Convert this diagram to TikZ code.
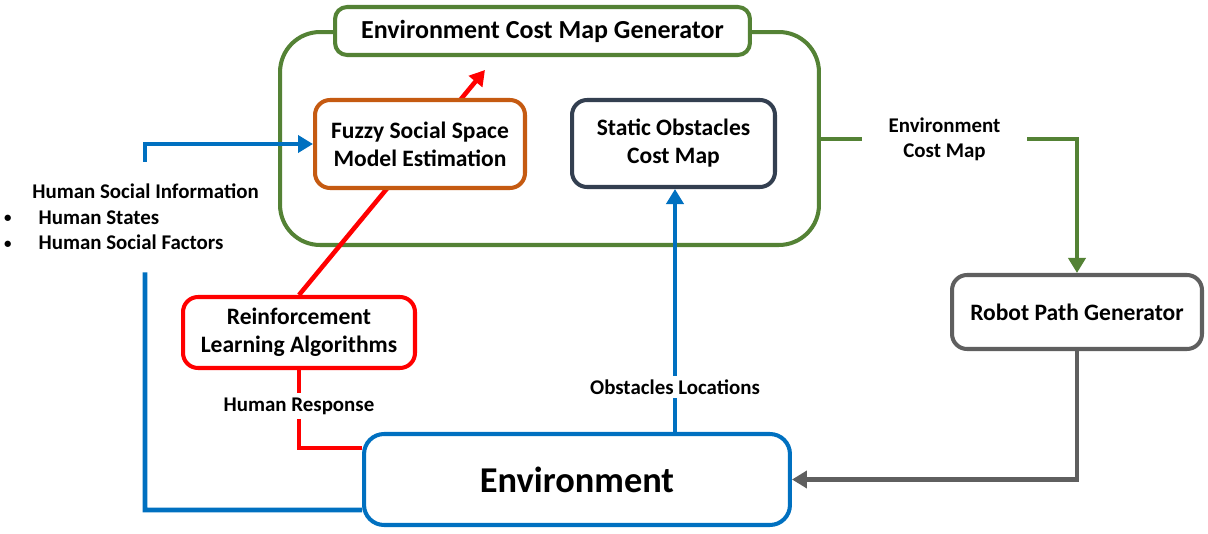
\documentclass[tikz,border=0pt]{standalone}
\usepackage{fontspec}
\setmainfont{Carlito}
\usetikzlibrary{arrows.meta}

\definecolor{genGreen}{RGB}{84,130,53}
\definecolor{fuzzyOrange}{RGB}{197,90,17}
\definecolor{staticSlate}{RGB}{51,63,80}
\definecolor{envBlue}{RGB}{0,112,192}
\definecolor{pathGray}{RGB}{95,95,95}

\newcommand{\hsibullet}{\llap{\raisebox{0.15ex}{\fontsize{8.5}{8.5}\selectfont\textbullet}\hspace{1.0em}}\hspace{0.3em}}

\tikzset{
  box/.style={draw,line width=2.3pt,fill=white,rounded corners=0.3cm,align=center,font=\bfseries\fontsize{13.4}{15.9}\selectfont},
  lbl/.style={inner sep=0pt,align=center,font=\bfseries\fontsize{11.9}{14.4}\selectfont},
  link/.style={line width=2.6pt},
  tip/.style={-{Triangle[width=0.34cm,length=0.3cm]}}
}

\begin{document}
\begin{tikzpicture}[x=0.02cm,y=-0.02cm]
\useasboundingbox (0,0) rectangle (1208,534);

\node[box,draw=genGreen,rounded corners=0.8cm,minimum width=10.78cm,minimum height=4.26cm] (gen) at (549.5,138.5) {};
\node[box,draw=genGreen,rounded corners=0.24cm,minimum width=8.3cm,minimum height=0.96cm,font=\bfseries\fontsize{14.8}{17}\selectfont] (title) at (542.5,31) {Environment Cost Map Generator};

\node[box,draw=red,minimum width=4.64cm,minimum height=1.42cm] (rl) at (299,332.5) {Reinforcement\\Learning Algorithms};
\coordinate (rtip) at (485,70);
\draw[link,red,tip] (rl.north) -- (rtip);

\node[box,draw=fuzzyOrange,minimum width=4.2cm,minimum height=1.76cm] (fuzzy) at (420,144) {Fuzzy Social Space\\Model Estimation};
\node[box,draw=staticSlate,minimum width=4.06cm,minimum height=1.74cm] (static) at (673.5,143.5) {Static Obstacles\\Cost Map};

\node[box,draw=envBlue,rounded corners=0.4cm,minimum width=8.52cm,minimum height=1.82cm,font=\bfseries\fontsize{20.7}{24}\selectfont] (env) at (577,479.5) {Environment};
\node[box,draw=pathGray,minimum width=5.0cm,minimum height=1.48cm] (robot) at (1077,312) {Robot Path Generator};

\node[lbl,minimum width=3.3cm] (ecm) at (944.5,139) {Environment\\Cost Map};
\node[lbl,minimum height=0.44cm] (obs) at (675,387) {Obstacles Locations};
\node[lbl,minimum height=0.5cm] (hr) at (299,406) {Human Response};
\node[lbl,align=left,minimum height=2.2cm,anchor=west] (hsi) at (32,217) {Human Social Information\\
\hsibullet Human States\\
\hsibullet Human Social Factors};

\draw[link,genGreen] (gen.east |- ecm) -- (ecm.west);
\draw[link,genGreen,tip] (ecm.east) -| (robot.north);
\draw[link,pathGray,tip] (robot.south) |- (env.east);
\draw[link,envBlue] (env.north -| obs) -- (obs.south);
\draw[link,envBlue,tip] (obs.north) -- (obs.north |- static.south);
\draw[link,red] (rl.south) -- (hr.north);
\draw[link,red] (hr.south) |- ([yshift=0.63cm]env.west);
\coordinate (hbend) at (145,510);
\draw[link,envBlue] ([yshift=0.34cm]env.south west) -- (hbend) -- (hbend |- hsi.south);
\draw[link,envBlue,tip] (hbend |- hsi.north) |- (fuzzy.west);

\end{tikzpicture}
\end{document}
